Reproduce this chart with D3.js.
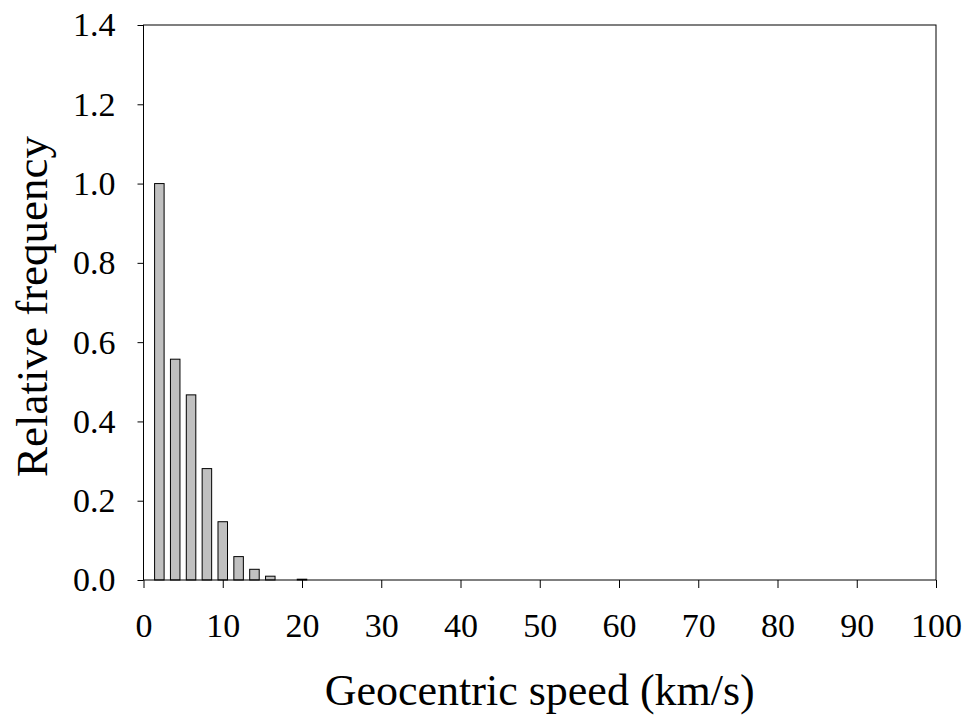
<!DOCTYPE html>
<html>
<head>
<meta charset="utf-8">
<script src="https://cdn.jsdelivr.net/npm/d3@7"></script>
<style>
  body { margin: 0; background: #fff; }
  text { font-family: "Liberation Serif", "Times New Roman", serif; fill: #000; }
</style>
</head>
<body>
<div id="chart"></div>
<script>
// bin centres (km/s) and relative frequency
const speeds = d3.range(2, 101, 2);
const freqs = [1.0, 0.557, 0.467, 0.281, 0.147, 0.059, 0.027, 0.0096, 0.0, 0.002]
  .concat(new Array(40).fill(0));
const xTicks = [0, 10, 20, 30, 40, 50, 60, 70, 80, 90, 100];
const yTicks = [0.0, 0.2, 0.4, 0.6, 0.8, 1.0, 1.2, 1.4];

const W = 968, H = 715;
const margin = { left: 143.5, right: 32, top: 25, bottom: 135 };

const svg = d3.select('#chart').append('svg')
  .attr('width', W).attr('height', H);

const x = d3.scaleLinear().domain([0, 100]).range([margin.left, W - margin.right]);
const y = d3.scaleLinear().domain([0, 1.4]).range([H - margin.bottom, margin.top]);

const barW = x(1.2) - x(0);
const data = speeds.map((s, i) => ({ s, f: freqs[i] }));

svg.append('g').selectAll('rect')
  .data(data)
  .enter().append('rect')
  .attr('x', d => x(d.s) - barW / 2)
  .attr('y', d => y(d.f))
  .attr('width', barW)
  .attr('height', d => y(0) - y(d.f))
  .attr('fill', '#c0c0c0')
  .attr('stroke', '#000')
  .attr('stroke-width', 1);

// frame
svg.append('rect')
  .attr('x', x(0)).attr('y', y(1.4))
  .attr('width', x(100) - x(0)).attr('height', y(0) - y(1.4))
  .attr('fill', 'none').attr('stroke', '#000').attr('stroke-width', 1);

const xAxis = svg.append('g')
  .attr('transform', `translate(0,${y(0)})`)
  .call(d3.axisBottom(x).tickValues(xTicks).tickSize(8).tickPadding(25).tickFormat(d3.format('d')));
xAxis.select('.domain').remove();
xAxis.selectAll('text').style('font-size', '34px').style('font-family', '"Liberation Serif", serif').attr('fill', '#000');

const yAxis = svg.append('g')
  .attr('transform', `translate(${x(0)},0)`)
  .call(d3.axisLeft(y).tickValues(yTicks).tickSize(6).tickPadding(22).tickFormat(d3.format('.1f')));
yAxis.select('.domain').remove();
yAxis.selectAll('text').style('font-size', '34px').style('font-family', '"Liberation Serif", serif').attr('fill', '#000');

svg.append('text')
  .attr('x', x(50)).attr('y', 705)
  .attr('text-anchor', 'middle')
  .style('font-size', '44px')
  .text('Geocentric speed (km/s)');

svg.append('text')
  .attr('transform', `translate(47,${y(0.7) + 4}) rotate(-90)`)
  .attr('text-anchor', 'middle')
  .style('font-size', '45px')
  .text('Relative frequency');
</script>
</body>
</html>
